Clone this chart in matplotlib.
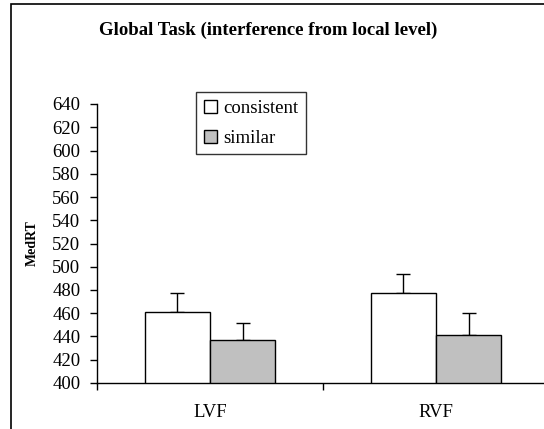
import matplotlib
matplotlib.use('Agg')
import matplotlib.pyplot as plt
from matplotlib.patches import Rectangle
import numpy as np

# Data
fields = ['LVF', 'RVF']
consistent = [461, 477]
similar = [437, 441]
consistent_err = [16, 17]
similar_err = [15, 19]
yticks = list(range(400, 641, 20))

plt.rcParams['font.family'] = 'Liberation Serif'

W, H = 544, 429
fig = plt.figure(figsize=(W / 100, H / 100), dpi=100)

# outer chart frame
fig.patches.append(Rectangle((11 / W, -0.1), 1.2, 1 - 4 / H + 0.1, transform=fig.transFigure,
                             fill=False, edgecolor='black', linewidth=1.2))

ax = fig.add_axes([97 / W, 1 - 383 / H, (549 - 97) / W, (383 - 104) / H])

x = np.arange(len(fields))
w = 0.288
ax.bar(x - w / 2, consistent, w, color='white', edgecolor='black', linewidth=1.0,
       label='consistent', zorder=2)
ax.bar(x + w / 2, similar, w, color='#c0c0c0', edgecolor='black', linewidth=1.0,
       label='similar', zorder=2)
ax.errorbar(x - w / 2, consistent, yerr=[[0, 0], consistent_err], fmt='none',
            ecolor='black', elinewidth=1.0, capsize=5, capthick=1.0, zorder=1)
ax.errorbar(x + w / 2, similar, yerr=[[0, 0], similar_err], fmt='none',
            ecolor='black', elinewidth=1.0, capsize=5, capthick=1.0, zorder=1)

ax.set_xlim(-0.5, 1.5)
ax.set_ylim(400, 640)
ax.set_yticks(yticks)
ax.tick_params(axis='y', labelsize=13.5, length=5, width=1, direction='out', pad=7)
ax.set_xticks(x)
ax.set_xticklabels(fields, fontsize=13.5)
ax.tick_params(axis='x', which='major', length=0, pad=15)
ax.set_xticks([-0.5, 0.5, 1.5], minor=True)
ax.tick_params(axis='x', which='minor', length=5, width=1, direction='out')

for s in ['top', 'right']:
    ax.spines[s].set_visible(False)
for s in ['left', 'bottom']:
    ax.spines[s].set_linewidth(1.0)
ax.spines['bottom'].set_zorder(3)

ax.set_ylabel('MedRT', fontsize=10, fontweight='bold')
ax.yaxis.set_label_coords(-(97 - 39) / (549 - 97), (383 - 243) / (383 - 104))

fig.text(268 / W, 1 - 30 / H, 'Global Task (interference from local level)',
         ha='center', va='center', fontsize=13.5, fontweight='bold')

leg = ax.legend(loc='upper left', bbox_to_anchor=((196 - 97) / (549 - 97), (383 - 92) / (383 - 104)),
                fontsize=13.5, frameon=True, fancybox=False, edgecolor='black',
                handlelength=0.7, handleheight=0.7, handletextpad=0.35,
                borderpad=0.4, labelspacing=0.7, borderaxespad=0)
leg.get_frame().set_linewidth(1.0)

fig.savefig('out.png', dpi=100)
